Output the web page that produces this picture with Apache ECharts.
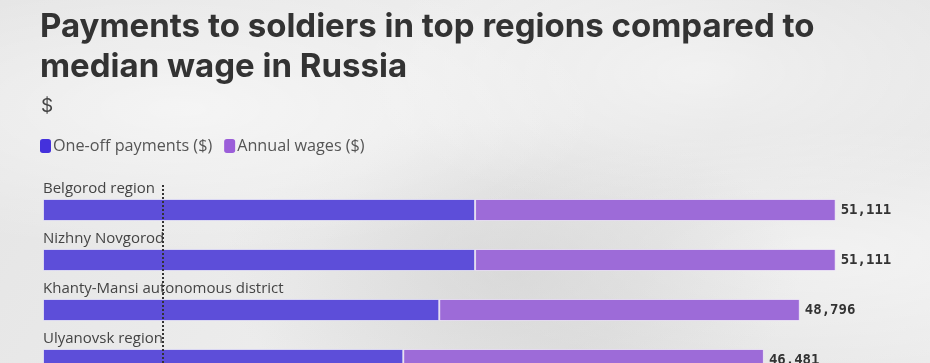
<!DOCTYPE html>
<html><head><meta charset="utf-8">
<script src="https://cdn.jsdelivr.net/npm/echarts@6/dist/echarts.min.js"></script>
<style>
html,body{margin:0;padding:0;}
body{width:930px;height:363px;overflow:hidden;
background:
 radial-gradient(ellipse at 20% 30%, rgba(255,255,255,0.55), rgba(255,255,255,0) 40%),
 radial-gradient(ellipse at 75% 20%, rgba(255,255,255,0.5), rgba(255,255,255,0) 35%),
 radial-gradient(ellipse at 55% 75%, rgba(200,200,200,0.45), rgba(200,200,200,0) 40%),
 radial-gradient(ellipse at 90% 70%, rgba(255,255,255,0.45), rgba(255,255,255,0) 35%),
 linear-gradient(120deg,#e4e4e4,#ececec 40%,#e2e2e2 70%,#ebebeb);}
#c{width:930px;height:363px;}
</style></head>
<body><div id="c"></div>
<script>
const categories = ["Belgorod region","Nizhny Novgorod","Khanty-Mansi autonomous district","Ulyanovsk region"];
const oneOff = [27860, 27860, 25550, 23230];
const annual = [23251, 23251, 23246, 23251];
const totals = [51111, 51111, 48796, 46481];
const refLineValue = 7700;

const chart = echarts.init(document.getElementById('c'));
const fam = 'Inter, "Open Sans", sans-serif';
chart.setOption({
  backgroundColor: 'transparent',
  title: [
    {text: 'Payments to soldiers in top regions compared to\nmedian wage in Russia', left: 35, top: 2,
     textStyle: {fontFamily: fam, fontSize: 33, fontWeight: 'bold', color: '#333', lineHeight: 40}},
    {text: '$', left: 36, top: 92, textStyle: {fontFamily: fam, fontSize: 19, fontWeight: 'normal', color: '#444'}}
  ],
  legend: {
    left: 35, top: 133, icon: 'roundRect', itemWidth: 11, itemHeight: 14, itemGap: 12,
    textStyle: {fontFamily: '"Open Sans", sans-serif', fontSize: 16.2, color: '#555', padding: [0,0,0,-3]},
    data: [
      {name: 'One-off payments ($)', itemStyle: {color: '#4431dc', borderWidth: 0}},
      {name: 'Annual wages ($)', itemStyle: {color: '#9b5ed9', borderWidth: 0}}
    ]
  },
  grid: {left: 43, right: 34, top: 185, bottom: -22, outerBoundsMode: 'none', containLabel: false},
  xAxis: {type: 'value', min: 0, max: 55000, show: false},
  yAxis: {type: 'category', data: categories, inverse: true, show: false},
  series: [
    {name: 'One-off payments ($)', type: 'bar', stack: 't', data: oneOff, barWidth: 22,
     itemStyle: {color: '#5d4ed9', borderColor: 'rgba(255,255,255,0.6)', borderWidth: 1},
     label: {show: true, position: [0, -3], align: 'left', verticalAlign: 'bottom',
             formatter: p => categories[p.dataIndex],
             fontFamily: '"Open Sans", sans-serif', fontSize: 15, color: '#444'},
     markLine: {silent: true, symbol: 'none', label: {show: false},
                lineStyle: {color: '#333', type: [2, 2], width: 2},
                data: [{xAxis: refLineValue}]}},
    {name: 'Annual wages ($)', type: 'bar', stack: 't', data: annual, barWidth: 22,
     itemStyle: {color: '#9d6bd8', borderColor: 'rgba(255,255,255,0.6)', borderWidth: 1},
     label: {show: true, position: 'right', distance: 5,
             formatter: p => totals[p.dataIndex].toLocaleString('en-US'),
             fontFamily: '"DejaVu Sans Mono", monospace', fontSize: 14, fontWeight: 'bold', color: '#333'}}
  ]
});
</script></body></html>
